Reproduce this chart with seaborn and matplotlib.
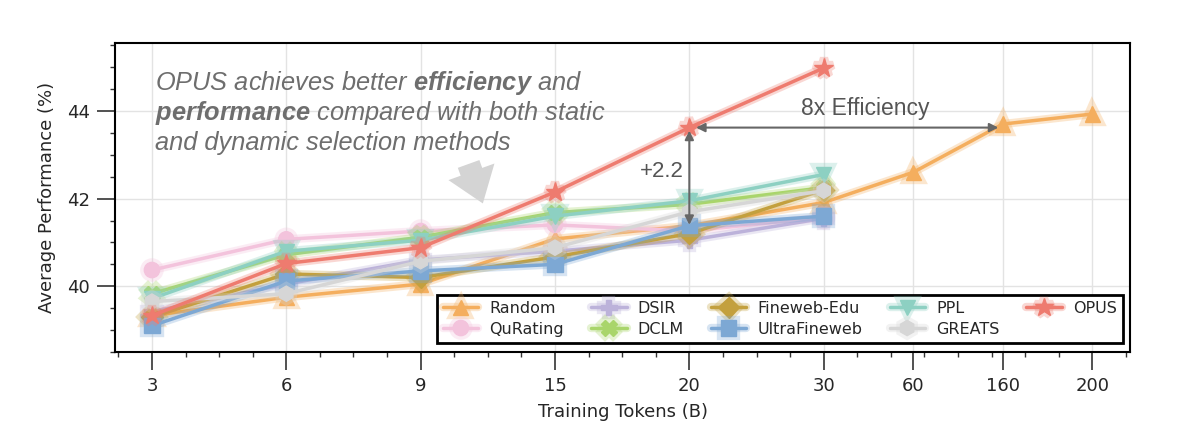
import matplotlib
matplotlib.use('Agg')
import matplotlib.pyplot as plt
import matplotlib.patheffects as pe
from matplotlib.ticker import MultipleLocator
import numpy as np
import pandas as pd
import seaborn as sns

# Data
tokens = ['3', '6', '9', '15', '20', '30', '60', '160', '200']
random_sel = [39.33, 39.75, 40.05, 41.08, 41.38, 41.91, 42.60, 43.70, 43.93]
qurating = [40.37, 41.07, 41.26, 41.40, 41.26, 41.57]
dsir = [39.42, 40.05, 40.60, 40.80, 41.05, 41.55]
dclm = [39.83, 40.72, 41.12, 41.68, 41.87, 42.25]
fineweb_edu = [39.30, 40.28, 40.20, 40.67, 41.20, 42.20]
ultrafineweb = [39.10, 40.12, 40.35, 40.50, 41.38, 41.60]
ppl = [39.72, 40.80, 41.05, 41.60, 41.95, 42.55]
greats = [39.65, 39.83, 40.57, 40.88, 41.70, 42.18]
opus = [39.33, 40.52, 40.88, 42.15, 43.62, 44.98]

methods = ['Random', 'QuRating', 'DSIR', 'DCLM', 'Fineweb-Edu',
           'UltraFineweb', 'PPL', 'GREATS', 'OPUS']
values = [random_sel, qurating, dsir, dclm, fineweb_edu,
          ultrafineweb, ppl, greats, opus]
colors = ['#F4AE5E', '#F3C3DC', '#BCB2DA', '#A9D56B', '#C3A03E',
          '#7DA8D4', '#8DD0C2', '#D6D6D6', '#EE7B6F']
markers = ['^', 'o', 'P', 'X', 'D', 's', 'v', 'h', '*']

# axis positions: first six evenly spaced, last three squeezed
pos = np.array([0, 1, 2, 3, 4, 5, 5 + 2 / 3, 6 + 1 / 3, 7])

sns.set_style('whitegrid')
plt.rcParams['font.family'] = ['DejaVu Sans']
plt.rcParams['mathtext.fontset'] = 'custom'
plt.rcParams['mathtext.bf'] = 'Liberation Sans:italic:bold'
plt.rcParams['mathtext.it'] = 'Liberation Sans:italic'
plt.rcParams['mathtext.rm'] = 'Liberation Sans:italic'

fig, ax = plt.subplots(figsize=(11.99, 4.37), dpi=100)
fig.subplots_adjust(left=115 / 1199, right=1130 / 1199,
                    bottom=1 - 352 / 437, top=1 - 43 / 437)

for name, vals, c, m in zip(methods, values, colors, markers):
    df = pd.DataFrame({'x': pos[:len(vals)], 'y': vals})
    ms = 14 if m == '*' else 11
    sns.lineplot(data=df, x='x', y='y', ax=ax, color=c, marker=m,
                 markersize=ms, markeredgecolor=c, markeredgewidth=1,
                 linewidth=2.5, label=name,
                 path_effects=[pe.Stroke(linewidth=6, foreground=c, alpha=0.3),
                               pe.Normal()])

ax.set_xlim(-0.275, 7.28)
ax.set_ylim(38.5, 45.55)
ax.set_xticks(pos)
ax.set_xticklabels(tokens)
ax.set_yticks([40, 42, 44])
ax.xaxis.set_minor_locator(MultipleLocator(0.25))
ax.yaxis.set_minor_locator(MultipleLocator(0.5))
ax.tick_params(axis='both', which='major', length=13, width=1.2,
               labelsize=13, pad=5, color='#333333', bottom=True, left=True)
ax.tick_params(axis='both', which='minor', length=3.5, width=1,
               color='#333333', bottom=True, left=True)
ax.grid(True, which='major', color='#e3e3e3', linewidth=1)
ax.grid(False, which='minor')
for s in ax.spines.values():
    s.set_color('black')
    s.set_linewidth(1.5)

ax.set_xlabel('Training Tokens (B)', fontsize=13, labelpad=6)
ax.set_ylabel('Average Performance (%)', fontsize=13, labelpad=8)

leg = ax.legend(ncol=5, loc='lower right',
                bbox_to_anchor=(1 - 7 / 1015, 9 / 309), fontsize=11.5,
                frameon=True, fancybox=False, edgecolor='black',
                borderpad=0.4, labelspacing=0.35, handlelength=2.2,
                columnspacing=1.7, handletextpad=0.7, borderaxespad=0)
leg.get_frame().set_linewidth(2)
leg.get_frame().set_alpha(1)

# annotation text
tc = '#6e6e6e'
lines = [r'OPUS achieves better $\mathbf{efficiency}$ and',
         r'$\mathbf{performance}$ compared with both static',
         r'and dynamic selection methods']
for i, t in enumerate(lines):
    ax.text(0.039, 0.848 - i * 0.097, t, transform=ax.transAxes,
            fontsize=18.3, color=tc, style='italic', family='Liberation Sans',
            va='baseline', ha='left')

# big grey pointer arrow
ax.annotate('', xy=(2.47, 41.83), xytext=(2.35, 42.85),
            arrowprops=dict(arrowstyle='simple,head_width=1.6,head_length=1.1,tail_width=0.75',
                            color='#d4d4d4', mutation_scale=22, lw=0))

ac = '#666666'
ax.annotate('', xy=(4.0, 41.40), xytext=(4.0, 43.55),
            arrowprops=dict(arrowstyle='<|-|>', color=ac, lw=1.5,
                            mutation_scale=13, shrinkA=0, shrinkB=0))
ax.text(3.96, 42.62, '+2.2', fontsize=16, color='#555555', ha='right',
        va='center', family='Liberation Sans')

ax.annotate('', xy=(6.3, 43.62), xytext=(4.05, 43.62),
            arrowprops=dict(arrowstyle='<|-|>', color=ac, lw=1.5,
                            mutation_scale=13, shrinkA=0, shrinkB=0))
ax.text(5.31, 43.8, '8x Efficiency', fontsize=16.5, color='#555555',
        ha='center', va='bottom', family='Liberation Sans')

fig.savefig('out.png', dpi=100)
